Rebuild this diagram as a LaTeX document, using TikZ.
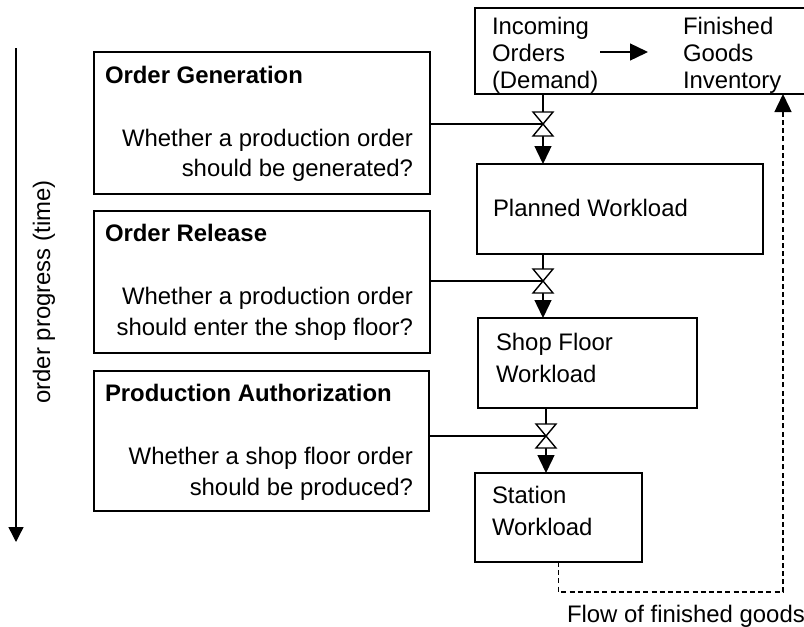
\documentclass[tikz,border=0pt]{standalone}
\usepackage{fontspec}
\setmainfont{Liberation Sans}
\usetikzlibrary{arrows.meta}
\begin{document}
\begin{tikzpicture}[x=0.5pt,y=-0.5pt,
  every node/.style={inner sep=0pt,outer sep=0pt,font=\fontsize{11.95}{14}\selectfont},
  box/.style={draw,line width=1pt,anchor=north west,inner sep=0pt},
  ttl/.style={anchor=base west,font=\fontsize{11.95}{14}\selectfont\bfseries},
  txtl/.style={anchor=base west},
  txtr/.style={anchor=base east},
  conn/.style={line width=0.7pt},
  flowarr/.style={line width=0.7pt,-{Triangle[length=9pt,width=8.5pt]}},
  valve/.style={line width=0.7pt,fill=white},
  dashline/.style={line width=0.7pt,dash pattern=on 2.5pt off 1.6pt,-{Triangle[length=9pt,width=8.5pt]}}
]
\useasboundingbox (0,0) rectangle (804,627);

% boxes
\node[box,minimum width=165.5pt,minimum height=43pt] (topbox) at (475,8) {};
\node[box,minimum width=168pt,minimum height=71pt] (og) at (94,52) {};
\node[box,minimum width=168pt,minimum height=71pt] (or) at (94,211) {};
\node[box,minimum width=167.5pt,minimum height=70pt] (pa) at (94,371) {};
\node[box,minimum width=143pt,minimum height=45pt] (pw) at (477,164) {};
\node[box,minimum width=109.5pt,minimum height=45pt] (sf) at (478,318) {};
\node[box,minimum width=83.5pt,minimum height=44.5pt] (sw) at (475,473) {};

% top box texts
\node[txtl] (inc1) at (492,34) {Incoming};
\node[txtl] (inc2) at (492,61) {Orders};
\node[txtl] (inc3) at (492,88) {(Demand)};
\node[txtl] (fin1) at (683,34) {Finished};
\node[txtl] (fin2) at (683,61) {Goods};
\node[txtl] (fin3) at (683,88) {Inventory};
\coordinate (a1) at (600,52);
\coordinate (a2) at (648,52);
\draw[flowarr] (a1) -- (a2);

% decision boxes
\node[ttl] (ogt) at (105,83) {Order Generation};
\node[txtr] (og1) at (413,146) {Whether a production order};
\node[txtr] (og2) at (413,176) {should be generated?};

\node[ttl] (ort) at (105,241) {Order Release};
\node[txtr] (or1) at (413,304) {Whether a production order};
\node[txtr] (or2) at (413,335) {should enter the shop floor?};

\node[ttl] (pat) at (105,401) {Production Authorization};
\node[txtr] (pa1) at (413,464) {Whether a shop floor order};
\node[txtr] (pa2) at (413,495) {should be produced?};

% workload texts
\node[txtl] (pwt) at (493,216) {Planned Workload};
\node[txtl] (sf1) at (496,350) {Shop Floor};
\node[txtl] (sf2) at (496,382) {Workload};
\node[txtl] (sw1) at (492,503) {Station};
\node[txtl] (sw2) at (492,535) {Workload};

% valves
\coordinate (v1) at (543,124);
\coordinate (v2) at (543,281);
\coordinate (v3) at (546,436);

\draw[conn] (og.east |- v1) -- (v1);
\draw[conn] (or.east |- v2) -- (v2);
\draw[conn] (pa.east |- v3) -- (v3);

\draw[conn] (topbox.south -| v1) -- ([shift={(0,-12)}]v1);
\draw[conn] (pw.south -| v2) -- ([shift={(0,-12)}]v2);
\draw[conn] (sf.south -| v3) -- ([shift={(0,-12)}]v3);

\draw[flowarr] ([shift={(0,12)}]v1) -- (v1 |- pw.north);
\draw[flowarr] ([shift={(0,12)}]v2) -- (v2 |- sf.north);
\draw[flowarr] ([shift={(0,12)}]v3) -- (v3 |- sw.north);

\foreach \v in {v1,v2,v3}{
  \draw[valve] ([shift={(-10,-12)}]\v) -- ([shift={(10,-12)}]\v) -- ([shift={(-10,12)}]\v) -- ([shift={(10,12)}]\v) -- cycle;
}

% flow of finished goods
\coordinate (d1) at (558,592);
\coordinate (d2) at (783,592);
\draw[dashline] (sw.south |- sw.south) -- (sw.south |- d1) -- (d2) -- (d2 |- topbox.south);
\node[txtl] (flow) at (567,622) {Flow of finished goods};

% order progress arrow
\coordinate (p1) at (16,48);
\coordinate (p2) at (16,542);
\draw[line width=0.7pt,-{Triangle[length=7.5pt,width=7.5pt]}] (p1) -- (p2);
\node[rotate=90,anchor=base] (prog) at (50,292) {order progress (time)};
\end{tikzpicture}
\end{document}
